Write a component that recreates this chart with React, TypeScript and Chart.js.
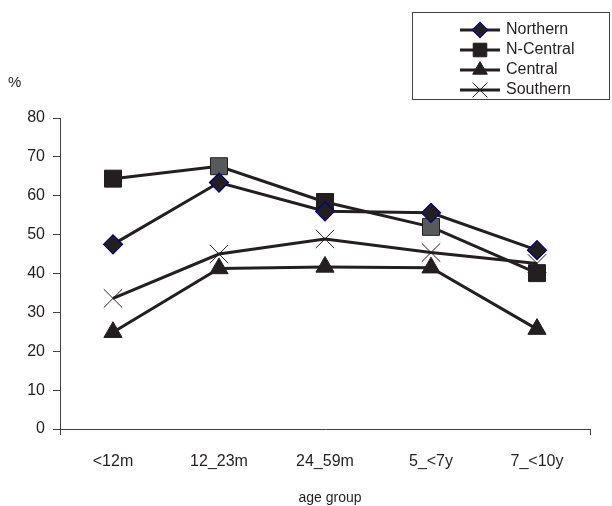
import React, { useEffect, useRef } from 'react';
import { Chart, registerables } from 'chart.js';
import { drawPoint } from 'chart.js/helpers';

Chart.register(...registerables);

const categories = ['<12m', '12_23m', '24_59m', '5_<7y', '7_<10y'];
const seriesNames = ['Northern', 'N-Central', 'Central', 'Southern'];
const northern = [47.5, 63.4, 56.0, 55.6, 46.0];
const nCentral = [64.4, 67.6, 58.4, 52.0, 40.1];
const central = [24.9, 41.3, 41.7, 41.5, 25.7];
const southern = [33.6, 45.0, 48.9, 45.4, 42.6];
const yMin = 0;
const yMax = 80;
const yStep = 10;
const yAxisSymbol = '%';
const xAxisTitle = 'age group';

const INK = '#231f20';
const GRAY = '#58595b';
const NAVY = '#000080';
const AXIS = '#404040';
const FONT = '"Liberation Sans", Arial, Helvetica, sans-serif';

const overlay = {
  id: 'overlay',
  afterDraw(chart: any) {
    const ctx = chart.ctx;
    ctx.save();
    ctx.fillStyle = INK;
    ctx.font = `15px ${FONT}`;
    ctx.textAlign = 'left';
    ctx.textBaseline = 'middle';
    ctx.fillText(yAxisSymbol, 8, 83);
    ctx.font = `14px ${FONT}`;
    ctx.textAlign = 'center';
    ctx.textBaseline = 'alphabetic';
    ctx.fillText(xAxisTitle, 330, 502);

    // legend box
    ctx.strokeStyle = AXIS;
    ctx.lineWidth = 1;
    ctx.strokeRect(412.5, 12.5, 197, 87);
    chart.data.datasets.forEach((ds: any, i: number) => {
      const y = 30 + i * 20;
      ctx.beginPath();
      ctx.moveTo(460, y);
      ctx.lineTo(500, y);
      ctx.lineWidth = 3;
      ctx.strokeStyle = INK;
      ctx.stroke();
      const bg = Array.isArray(ds.pointBackgroundColor) ? ds.pointBackgroundColor[0] : ds.pointBackgroundColor;
      ctx.fillStyle = bg;
      ctx.strokeStyle = ds.pointBorderColor;
      ctx.lineWidth = ds.pointBorderWidth;
      drawPoint(ctx, { pointStyle: ds.pointStyle, radius: ds.pointRadius * 0.8, borderWidth: ds.pointBorderWidth, rotation: 0 } as any, 480, y);
      ctx.fillStyle = INK;
      ctx.font = `16px ${FONT}`;
      ctx.textAlign = 'left';
      ctx.textBaseline = 'middle';
      ctx.fillText(ds.label, 506, y);
    });
    ctx.restore();
  },
};

export default function App() {
  const ref = useRef<HTMLCanvasElement | null>(null);
  useEffect(() => {
    if (!ref.current) return;
    const chart = new Chart(ref.current, {
      type: 'line',
      data: {
        labels: categories,
        datasets: [
          {
            label: seriesNames[0],
            data: northern,
            borderColor: INK,
            borderWidth: 3,
            pointStyle: 'rectRot',
            pointRadius: 9.5,
            pointBackgroundColor: INK,
            pointBorderColor: NAVY,
            pointBorderWidth: 1.2,
            tension: 0,
          },
          {
            label: seriesNames[1],
            data: nCentral,
            borderColor: INK,
            borderWidth: 3,
            pointStyle: 'rect',
            pointRadius: 12,
            pointBackgroundColor: [INK, GRAY, INK, GRAY, INK],
            pointBorderColor: INK,
            pointBorderWidth: 1,
            tension: 0,
          },
          {
            label: seriesNames[2],
            data: central,
            borderColor: INK,
            borderWidth: 3,
            pointStyle: 'triangle',
            pointRadius: 10.5,
            pointBackgroundColor: INK,
            pointBorderColor: INK,
            pointBorderWidth: 1,
            tension: 0,
          },
          {
            label: seriesNames[3],
            data: southern,
            borderColor: INK,
            borderWidth: 3,
            pointStyle: 'crossRot',
            pointRadius: 13,
            pointBackgroundColor: INK,
            pointBorderColor: INK,
            pointBorderWidth: 1,
            tension: 0,
          },
        ],
      } as any,
      options: {
        responsive: false,
        animation: false,
        layout: { padding: { top: 118, right: 22, bottom: 0, left: 0 } },
        plugins: { legend: { display: false }, tooltip: { enabled: false }, title: { display: false } },
        scales: {
          x: {
            offset: true,
            grid: {
              offset: true,
              drawOnChartArea: false,
              tickLength: 6,
              color: (c: any) => (c.type !== 'tick' || c.index === 0 ? AXIS : 'rgba(0,0,0,0)'),
            },
            border: { display: true, color: AXIS, width: 1 },
            ticks: { color: INK, font: { family: FONT, size: 16 }, padding: 17, maxRotation: 0, autoSkip: false },
            afterFit: (s: any) => { s.height = 77; },
          },
          y: {
            min: yMin,
            max: yMax,
            grid: { drawOnChartArea: false, tickLength: 7, color: AXIS },
            border: { display: true, color: AXIS, width: 1 },
            ticks: { stepSize: yStep, color: INK, font: { family: FONT, size: 16 }, padding: 8 },
            afterFit: (s: any) => { s.width = 60; },
          },
        },
      },
      plugins: [overlay],
    });
    return () => chart.destroy();
  }, []);
  return (
    <div style={{ position: 'absolute', left: 0, top: 0, width: 612, height: 506, background: '#fff' }}>
      <canvas ref={ref} width={612} height={506} />
    </div>
  );
}
